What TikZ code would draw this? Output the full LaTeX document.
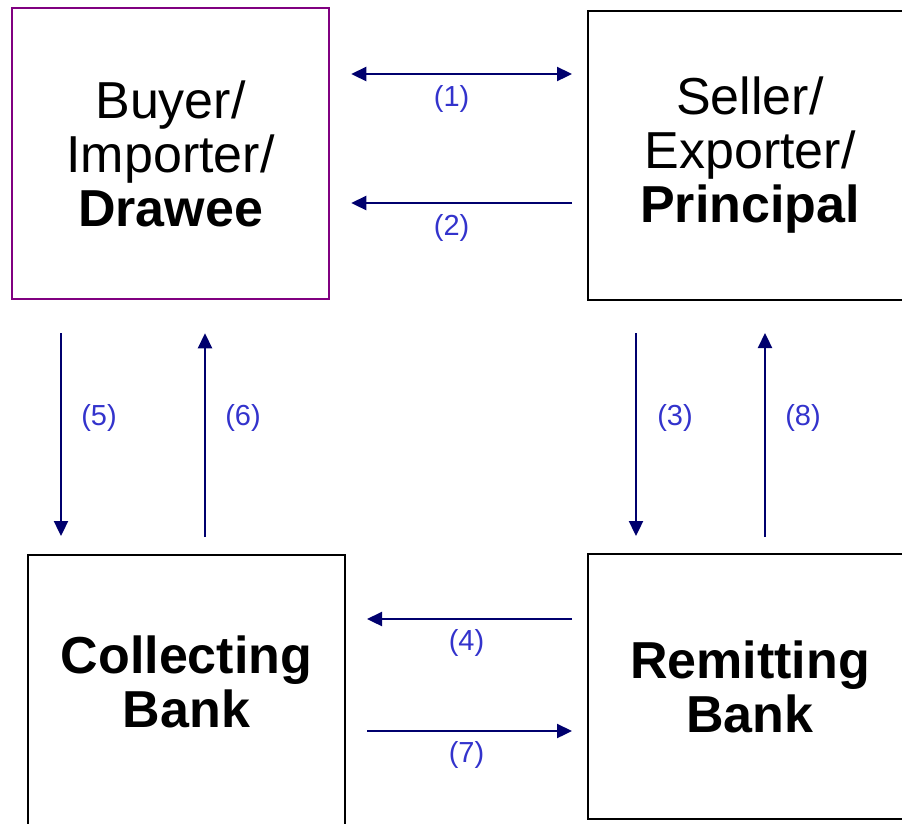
\documentclass[tikz,border=0pt]{standalone}
\usepackage{fontspec}
\setmainfont{Liberation Sans}
\usepackage{xcolor}
\definecolor{flowblue}{RGB}{0,0,110}
\definecolor{tagblue}{RGB}{51,51,204}
\definecolor{buyerpurple}{RGB}{128,0,128}
\usetikzlibrary{arrows.meta}

\begin{document}
\begin{tikzpicture}[x=1pt, y=-1pt,
    party/.style={draw=black, line width=2pt, align=center, inner sep=0pt,
                  font=\fontsize{52}{54}\selectfont},
    bank/.style={party, font=\fontsize{52}{54}\selectfont\bfseries},
    flow/.style={draw=flowblue, line width=2.3pt, -{Triangle[length=15pt,width=14pt]}},
    twoway/.style={flow, {Triangle[length=15pt,width=14pt]}-{Triangle[length=15pt,width=14pt]}},
    tag/.style={text=tagblue, font=\fontsize{29}{30}\selectfont}]
    \useasboundingbox (0,0) rectangle (902,823);

    % the four parties
    \node[party, draw=buyerpurple, line width=2.5pt, minimum width=317pt, minimum height=291pt]
        (buyer) at (170.5,153.5) {Buyer/\\Importer/\\\textbf{Drawee}};
    \node[party, minimum width=324pt, minimum height=289pt]
        (seller) at (750,155.5) {Seller/\\Exporter/\\\textbf{Principal}};
    \node[party, minimum width=317pt, minimum height=270pt,
          label={[bank, draw=none, yshift=8pt]center:Collecting\\Bank}]
        (collecting) at (186.5,690) {};
    \node[bank, minimum width=324pt, minimum height=265pt]
        (remitting) at (750,686.5) {Remitting\\Bank};

    % top row
    \draw[twoway, shorten <=21pt, shorten >=15pt] ([yshift=79.5pt]buyer.east) --
        node[tag, midway, xshift=-7pt, yshift=-25pt] {(1)} ([yshift=81.5pt]seller.west);
    \draw[flow, shorten <=15pt, shorten >=21pt] ([yshift=-47.5pt]seller.west) --
        node[tag, midway, xshift=-7pt, yshift=-25pt] {(2)} ([yshift=-49.5pt]buyer.east);

    % buyer side
    \draw[flow, shorten <=33pt, shorten >=18pt] ([xshift=-109.5pt]buyer.south) --
        node[tag, midway, xshift=38pt, yshift=9pt] {(5)} ([xshift=-125.5pt]collecting.north);
    \draw[flow, shorten <=17pt, shorten >=33pt] ([xshift=18.5pt]collecting.north) --
        node[tag, midway, xshift=38pt, yshift=9pt] {(6)} ([xshift=34.5pt]buyer.south);

    % seller side
    \draw[flow, shorten <=32pt, shorten >=17pt] ([xshift=-114pt]seller.south) --
        node[tag, midway, xshift=39pt, yshift=9pt] {(3)} ([xshift=-114pt]remitting.north);
    \draw[flow, shorten <=16pt, shorten >=32pt] ([xshift=15pt]remitting.north) --
        node[tag, midway, xshift=38pt, yshift=9pt] {(8)} ([xshift=15pt]seller.south);

    % bottom row
    \draw[flow, shorten <=15pt, shorten >=21pt] ([yshift=67.5pt]remitting.west) --
        node[tag, midway, xshift=0pt, yshift=-24pt] {(4)} ([yshift=71pt]collecting.east);
    \draw[flow, shorten <=21pt, shorten >=15pt] ([yshift=-41pt]collecting.east) --
        node[tag, midway, xshift=0pt, yshift=-24pt] {(7)} ([yshift=-44.5pt]remitting.west);
\end{tikzpicture}
\end{document}
